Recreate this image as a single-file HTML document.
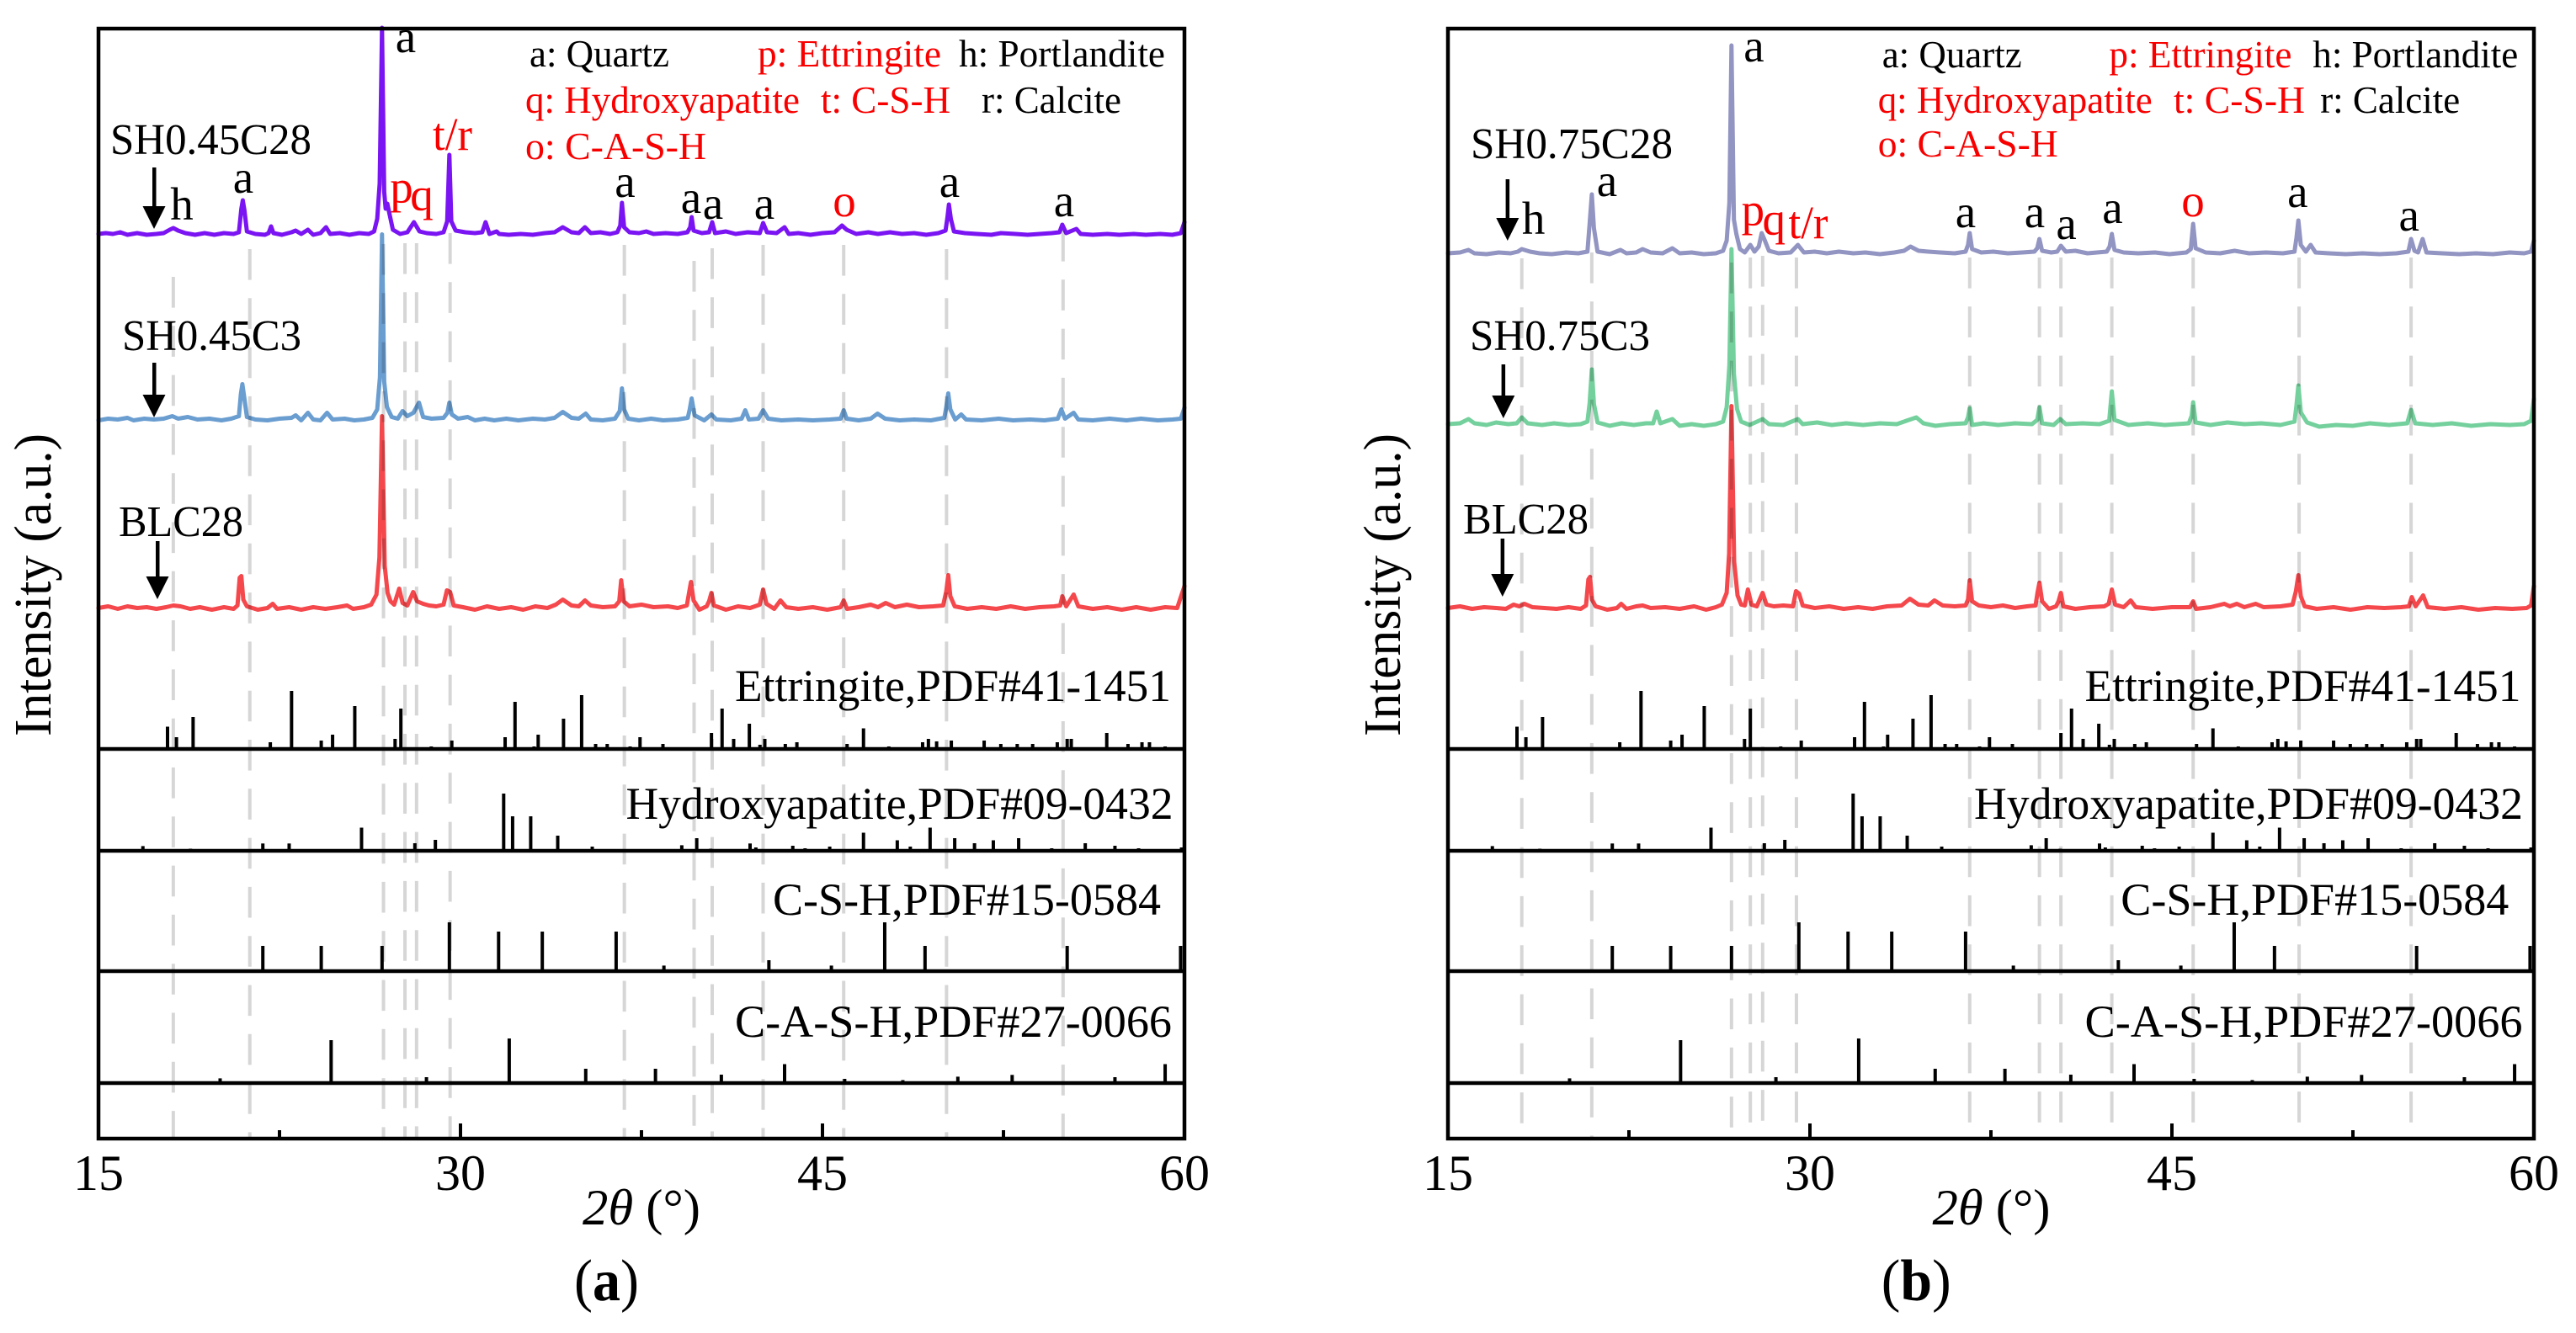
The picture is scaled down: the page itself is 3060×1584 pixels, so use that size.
<!DOCTYPE html>
<html lang="en">
<head>
<meta charset="utf-8">
<title>XRD patterns</title>
<style>
html,body{margin:0;padding:0;background:#fff;}
#fig{display:block;width:3060px;height:1584px;background:#fff;}
text{font-family:"Liberation Serif","Times New Roman",serif;fill:#000;}
.red{fill:#f80000;}
.lg{font-size:46px;}
.pk{font-size:55px;text-anchor:middle;}
.sm{font-size:52px;}
.pdf{font-size:54px;}
.tit{font-size:60px;}
.yt{font-size:62px;text-anchor:middle;}
.cap{font-size:70px;}
</style>
</head>
<body>
<svg id="fig" xmlns="http://www.w3.org/2000/svg" width="3060" height="1584" viewBox="0 0 3060 1584">
<g id="layer-grid"></g>
<g id="layer-series"></g>
<g id="layer-sticks"></g>
<g id="layer-frame"></g>
<g id="layer-ticks"></g>

<g>
<text class="yt" transform="translate(60,695) rotate(-90)" textLength="360" lengthAdjust="spacingAndGlyphs">Intensity (a.u.)</text>
<text class="tit" x="692" y="1455" textLength="140" lengthAdjust="spacingAndGlyphs"><tspan font-style="italic">2θ</tspan> (°)</text>
<text class="cap" x="682" y="1545" textLength="77" lengthAdjust="spacingAndGlyphs">(<tspan font-weight="bold">a</tspan>)</text>

<text class="lg" x="629" y="79" textLength="166" lengthAdjust="spacingAndGlyphs">a: Quartz</text>
<text class="lg red" x="900" y="79" textLength="218" lengthAdjust="spacingAndGlyphs">p: Ettringite</text>
<text class="lg" x="1139" y="79" textLength="245" lengthAdjust="spacingAndGlyphs">h: Portlandite</text>
<text class="lg red" x="624" y="134" textLength="326" lengthAdjust="spacingAndGlyphs">q: Hydroxyapatite</text>
<text class="lg red" x="975" y="134" textLength="154" lengthAdjust="spacingAndGlyphs">t: C-S-H</text>
<text class="lg" x="1166" y="134" textLength="166" lengthAdjust="spacingAndGlyphs">r: Calcite</text>
<text class="lg red" x="624" y="189" textLength="215" lengthAdjust="spacingAndGlyphs">o: C-A-S-H</text>

<text class="sm" x="131" y="183" textLength="239" lengthAdjust="spacingAndGlyphs">SH0.45C28</text>
<text class="sm" x="145" y="416" textLength="213" lengthAdjust="spacingAndGlyphs">SH0.45C3</text>
<text class="sm" x="141" y="637" textLength="148" lengthAdjust="spacingAndGlyphs">BLC28</text>

<g><rect x="181" y="199" width="4.5" height="50"/><polygon points="169.500,245 196.500,245 183,272"/></g>
<g><rect x="181" y="431" width="4.5" height="40"/><polygon points="169.500,469 196.500,469 183,496"/></g>
<g><rect x="185" y="643" width="4.5" height="45"/><polygon points="173.500,685 200.500,685 187,712"/></g>

<text class="pk" x="482" y="62">a</text>
<text class="pk" x="216" y="261">h</text>
<text class="pk" x="289" y="229">a</text>
<text class="pk red" x="477" y="241">p</text>
<text class="pk red" x="501" y="250">q</text>
<text class="pk red" x="537.500" y="178" textLength="47" lengthAdjust="spacingAndGlyphs">t/r</text>
<text class="pk" x="742.500" y="234">a</text>
<text class="pk" x="821" y="253">a</text>
<text class="pk" x="847" y="260">a</text>
<text class="pk" x="908" y="260">a</text>
<text class="pk red" x="1003" y="257">o</text>
<text class="pk" x="1128" y="234">a</text>
<text class="pk" x="1264" y="257">a</text>

<text class="pdf" x="873" y="833" textLength="518" lengthAdjust="spacingAndGlyphs">Ettringite,PDF#41-1451</text>
<text class="pdf" x="743.500" y="973" textLength="650" lengthAdjust="spacingAndGlyphs">Hydroxyapatite,PDF#09-0432</text>
<text class="pdf" x="918" y="1087" textLength="461" lengthAdjust="spacingAndGlyphs">C-S-H,PDF#15-0584</text>
<text class="pdf" x="873" y="1232" textLength="519" lengthAdjust="spacingAndGlyphs">C-A-S-H,PDF#27-0066</text>
</g>

<g>
<text class="yt" transform="translate(1663,695) rotate(-90)" textLength="360" lengthAdjust="spacingAndGlyphs">Intensity (a.u.)</text>
<text class="tit" x="2295.500" y="1455" textLength="140" lengthAdjust="spacingAndGlyphs"><tspan font-style="italic">2θ</tspan> (°)</text>
<text class="cap" x="2234.700" y="1545" textLength="83" lengthAdjust="spacingAndGlyphs">(<tspan font-weight="bold">b</tspan>)</text>

<text class="lg" x="2235.700" y="80" textLength="166" lengthAdjust="spacingAndGlyphs">a: Quartz</text>
<text class="lg red" x="2505.400" y="80" textLength="217" lengthAdjust="spacingAndGlyphs">p: Ettringite</text>
<text class="lg" x="2747.300" y="80" textLength="244" lengthAdjust="spacingAndGlyphs">h: Portlandite</text>
<text class="lg red" x="2230.700" y="134" textLength="326" lengthAdjust="spacingAndGlyphs">q: Hydroxyapatite</text>
<text class="lg red" x="2582" y="134" textLength="156" lengthAdjust="spacingAndGlyphs">t: C-S-H</text>
<text class="lg" x="2756.200" y="134" textLength="166" lengthAdjust="spacingAndGlyphs">r: Calcite</text>
<text class="lg red" x="2230.700" y="186" textLength="214" lengthAdjust="spacingAndGlyphs">o: C-A-S-H</text>

<text class="sm" x="1747" y="188" textLength="240" lengthAdjust="spacingAndGlyphs">SH0.75C28</text>
<text class="sm" x="1746" y="416" textLength="214" lengthAdjust="spacingAndGlyphs">SH0.75C3</text>
<text class="sm" x="1738" y="634" textLength="149" lengthAdjust="spacingAndGlyphs">BLC28</text>

<g><rect x="1788.600" y="213" width="4.5" height="50"/><polygon points="1777.300,259 1804.300,259 1790.800,286"/></g>
<g><rect x="1783.600" y="433" width="4.5" height="40"/><polygon points="1772.300,470 1799.300,470 1785.800,497"/></g>
<g><rect x="1782.600" y="640" width="4.5" height="45"/><polygon points="1771.300,682 1798.300,682 1784.800,709"/></g>

<text class="pk" x="2083.400" y="73">a</text>
<text class="pk" x="1909" y="233">a</text>
<text class="pk" x="1821.600" y="278">h</text>
<text class="pk red" x="2082.400" y="268">p</text>
<text class="pk red" x="2107.300" y="279">q</text>
<text class="pk red" x="2148" y="283" textLength="47" lengthAdjust="spacingAndGlyphs">t/r</text>
<text class="pk" x="2335" y="270">a</text>
<text class="pk" x="2417" y="270">a</text>
<text class="pk" x="2454.600" y="284">a</text>
<text class="pk" x="2509.400" y="265">a</text>
<text class="pk red" x="2605" y="257">o</text>
<text class="pk" x="2729.300" y="246">a</text>
<text class="pk" x="2861.700" y="274">a</text>

<text class="pdf" x="2476.500" y="833" textLength="518" lengthAdjust="spacingAndGlyphs">Ettringite,PDF#41-1451</text>
<text class="pdf" x="2345" y="973" textLength="652" lengthAdjust="spacingAndGlyphs">Hydroxyapatite,PDF#09-0432</text>
<text class="pdf" x="2519.300" y="1087" textLength="461" lengthAdjust="spacingAndGlyphs">C-S-H,PDF#15-0584</text>
<text class="pdf" x="2476.500" y="1232" textLength="520" lengthAdjust="spacingAndGlyphs">C-A-S-H,PDF#27-0066</text>
</g>
</svg>

<script>
/* ---------- data: [2theta, intensity] ---------- */
var sh045c28 = [[15,0],[15.3,1],[15.6,0],[15.9,2],[16.2,-1],[16.6,1],[17,-1],[17.4,0],[17.7,1],[17.95,5],[18.1,7],[18.3,4],[18.6,1],[19,-1],[19.4,1],[19.8,-1],[20.2,1],[20.6,0],[20.82,2],[20.92,30],[20.98,40],[21.05,28],[21.15,3],[21.5,0],[21.9,-1],[22.05,1],[22.15,9],[22.25,1],[22.6,-1],[23,2],[23.17,4],[23.4,0],[23.68,5],[23.9,-1],[24.2,1],[24.43,8],[24.6,0],[25,1],[25.4,-1],[25.8,1],[26.2,0],[26.42,3],[26.55,18],[26.65,60],[26.75,245],[26.84,50],[26.9,30],[26.97,36],[27.05,25],[27.2,5],[27.5,0],[27.8,2],[28.07,14],[28.3,3],[28.6,1],[29,0],[29.3,2],[29.45,15],[29.54,94],[29.62,15],[29.8,4],[30.2,2],[30.6,1],[30.9,2],[31.04,14],[31.2,0],[31.5,3],[31.6,0],[32,-1],[32.5,0],[33,-1],[33.5,1],[33.9,2],[34.24,8],[34.6,2],[34.9,1],[35.16,8],[35.4,1],[35.8,2],[36.2,0],[36.5,2],[36.62,10],[36.69,37],[36.78,8],[37,2],[37.4,1],[37.7,3],[38,0],[38.5,1],[39,0],[39.4,2],[39.52,8],[39.58,20],[39.66,4],[40,1],[40.3,2],[40.43,14],[40.55,1],[41,3],[41.4,0],[41.9,2],[42.4,1],[42.54,13],[42.7,2],[43.1,1],[43.43,8],[43.6,0],[44,1],[44.5,-1],[45,1],[45.5,2],[45.81,10],[46,5],[46.4,0],[46.9,2],[47.3,0],[47.8,2],[48.3,0],[48.8,1],[49.3,-1],[49.8,1],[50.1,4],[50.18,20],[50.24,35],[50.32,18],[50.45,3],[50.9,1],[51.4,0],[52,-1],[52.4,1],[53,0],[53.5,-1],[54,0],[54.5,1],[54.82,2],[54.94,11],[55.1,1],[55.52,6],[55.7,0],[56.2,-1],[56.8,0],[57.3,-1],[57.9,0],[58.4,-1],[59,0],[59.5,-1],[59.85,1],[60,14]];
var sh045c3 = [[15,-1],[15.4,1],[15.8,0],[16.2,2],[16.45,-1],[16.9,1],[17.3,0],[17.7,1],[18.06,4],[18.3,1],[18.7,3],[19.1,0],[19.6,1],[20.1,-1],[20.5,1],[20.82,4],[20.9,30],[20.96,42],[21.03,28],[21.15,3],[21.5,0],[22,-1],[22.5,1],[23,2],[23.17,5],[23.4,-1],[23.68,8],[23.9,0],[24.2,-1],[24.47,8],[24.7,0],[25.2,1],[25.6,-1],[26,0],[26.35,2],[26.55,12],[26.66,50],[26.75,220],[26.84,45],[26.95,15],[27.15,3],[27.4,1],[27.6,10],[27.8,4],[28.05,8],[28.28,20],[28.45,3],[28.8,1],[29.3,2],[29.46,8],[29.54,20],[29.64,6],[29.9,1],[30.3,3],[30.6,-1],[31,1],[31.4,-1],[31.9,1],[32.4,-1],[33,1],[33.5,0],[33.9,2],[34.24,9],[34.6,2],[34.9,1],[35.19,7],[35.4,0],[35.9,-1],[36.4,1],[36.6,10],[36.69,37],[36.78,12],[36.95,1],[37.4,-1],[37.9,1],[38.4,-1],[39,0],[39.42,2],[39.5,12],[39.58,25],[39.7,5],[40.1,-1],[40.4,6],[40.6,0],[41.2,-1],[41.65,1],[41.8,11],[41.95,0],[42.35,1],[42.54,11],[42.75,1],[43.3,-1],[44,0],[44.6,-1],[45.3,0],[45.75,1],[45.88,11],[46,1],[46.5,-1],[47,1],[47.28,7],[47.6,1],[48.2,-1],[48.8,0],[49.5,-1],[50.05,2],[50.13,15],[50.21,31],[50.3,12],[50.5,0],[50.75,6],[50.95,0],[51.6,-1],[52.3,1],[52.9,-1],[53.6,0],[54.2,-1],[54.75,1],[54.9,12],[55.05,1],[55.41,8],[55.6,0],[56.2,-1],[56.9,1],[57.6,-1],[58.2,1],[58.9,-1],[59.5,0],[59.85,1],[60,14]];
var blc28a = [[15,0],[15.4,2],[15.8,-1],[16.2,2],[16.6,0],[17,1],[17.4,-1],[17.8,1],[18.1,3],[18.4,2],[18.8,-1],[19.2,1],[19.7,-2],[20.2,1],[20.6,-1],[20.76,3],[20.85,36],[20.92,38],[21,10],[21.15,2],[21.6,-2],[22,0],[22.22,5],[22.4,-1],[22.9,1],[23.4,-2],[23.9,1],[24.4,-1],[24.9,1],[25.3,3],[25.55,-1],[26,1],[26.3,4],[26.52,16],[26.64,60],[26.75,228],[26.86,50],[26.98,18],[27.1,8],[27.25,4],[27.46,23],[27.6,6],[27.8,3],[28.04,19],[28.2,8],[28.45,5],[28.7,3],[29,2],[29.3,4],[29.44,21],[29.57,19],[29.72,3],[30.1,1],[30.6,-2],[31.1,2],[31.6,-1],[32.1,1],[32.6,-2],[33.1,2],[33.6,0],[33.95,4],[34.24,10],[34.6,3],[34.9,2],[35.16,9],[35.4,3],[35.9,1],[36.4,2],[36.58,8],[36.66,33],[36.76,8],[37,2],[37.5,4],[38,1],[38.6,2],[39,0],[39.38,3],[39.47,18],[39.55,31],[39.66,9],[39.9,-2],[40.2,2],[40.3,8],[40.4,18],[40.5,3],[41,-2],[41.5,2],[42,0],[42.4,4],[42.54,22],[42.68,5],[43,-1],[43.26,9],[43.5,1],[44,-1],[44.6,1],[45.2,-2],[45.75,1],[45.88,9],[46.02,-1],[46.5,1],[47,4],[47.3,1],[47.62,6],[48,1],[48.5,4],[49,1],[49.6,2],[50,3],[50.13,20],[50.21,39],[50.3,14],[50.48,2],[51,-1],[51.6,1],[52.2,-1],[52.8,2],[53.4,-1],[54,1],[54.6,2],[54.85,3],[54.94,14],[55.1,2],[55.41,16],[55.6,2],[56.2,-1],[56.8,1],[57.4,-2],[58,1],[58.6,-2],[59.2,1],[59.7,0],[60,26]];
var sh075c28 = [[15,0],[15.5,1],[15.85,4],[16.1,0],[16.6,-1],[17.1,1],[17.6,0],[17.9,2],[18.06,5],[18.4,2],[18.8,0],[19.3,-1],[19.9,1],[20.4,0],[20.78,2],[20.87,35],[20.96,70],[21.05,30],[21.2,2],[21.7,-1],[22.15,4],[22.4,0],[22.8,1],[23.07,5],[23.4,1],[23.9,0],[24.3,6],[24.6,0],[25.1,1],[25.6,-1],[26.1,0],[26.4,3],[26.55,15],[26.66,60],[26.75,247],[26.85,40],[26.95,23],[27.1,5],[27.3,1],[27.53,10],[27.7,2],[27.88,8],[28,24],[28.12,16],[28.3,3],[28.7,0],[29.2,1],[29.5,10],[29.75,1],[30.2,2],[30.7,0],[31.2,2],[31.8,0],[32.3,1],[32.9,-1],[33.5,1],[33.9,3],[34.17,8],[34.5,3],[34.9,2],[35.4,1],[36,0],[36.45,2],[36.55,10],[36.62,24],[36.72,5],[37.1,1],[37.6,2],[38.2,0],[38.8,1],[39.3,2],[39.42,6],[39.51,17],[39.62,3],[40,1],[40.25,2],[40.4,9],[40.6,2],[41,3],[41.5,0],[42.3,2],[42.42,8],[42.51,23],[42.62,4],[43,1],[43.6,0],[44.3,1],[44.9,-1],[45.6,1],[45.78,5],[45.88,35],[45.98,6],[46.4,1],[47,0],[47.6,3],[48.2,0],[48.9,1],[49.6,0],[50.08,2],[50.16,18],[50.24,39],[50.34,10],[50.55,2],[50.75,10],[50.95,1],[51.5,0],[52.2,-1],[52.9,0],[53.6,-1],[54.3,0],[54.8,2],[54.91,17],[55.05,3],[55.2,1],[55.39,17],[55.55,1],[56.2,0],[56.9,-1],[57.6,0],[58.3,-1],[59,1],[59.6,0],[59.88,2],[60,15]];
var sh075c3 = [[15,0],[15.5,1],[15.85,6],[16.1,1],[16.6,-1],[17,2],[17.5,0],[17.85,1],[18.06,8],[18.3,1],[18.9,-1],[19.4,1],[20,-1],[20.5,0],[20.78,3],[20.87,25],[20.96,65],[21.05,24],[21.2,2],[21.7,-2],[22.2,1],[22.7,-1],[23.2,1],[23.5,1],[23.65,15],[23.8,1],[24.3,6],[24.6,-2],[25.1,0],[25.6,-2],[26.1,0],[26.4,3],[26.55,20],[26.66,70],[26.75,208],[26.85,60],[26.98,18],[27.15,3],[27.5,-1],[28.04,6],[28.3,0],[28.9,-1],[29.5,6],[29.7,0],[30.3,2],[30.9,-1],[31.5,1],[32.2,-1],[32.9,1],[33.6,0],[34.1,5],[34.41,8],[34.7,1],[35.2,-2],[35.8,0],[36.45,1],[36.55,8],[36.62,19],[36.72,-1],[37.2,1],[37.8,-1],[38.5,1],[39.2,0],[39.42,5],[39.51,20],[39.62,1],[40.1,-1],[40.37,6],[40.6,0],[41.3,1],[42,0],[42.4,4],[42.51,39],[42.62,5],[43.2,-1],[44,1],[44.7,-1],[45.7,1],[45.82,10],[45.88,26],[45.98,2],[46.6,-1],[47.3,2],[48,0],[48.7,1],[49.5,-1],[50.08,3],[50.16,22],[50.24,46],[50.34,14],[50.6,2],[51.1,-3],[51.8,-1],[52.5,-2],[53.2,1],[54,-1],[54.75,1],[54.91,17],[55.08,1],[55.8,-1],[56.6,1],[57.4,-2],[58.2,0],[59,-1],[59.6,0],[59.88,4],[60,30]];
var blc28b = [[15,0],[15.5,2],[16,-1],[16.5,1],[17,0],[17.4,-1],[17.72,4],[17.95,2],[18.17,5],[18.5,1],[19,0],[19.5,-1],[20,1],[20.5,-1],[20.72,3],[20.82,34],[20.89,37],[20.97,10],[21.12,2],[21.6,-2],[22,0],[22.18,5],[22.4,-1],[22.8,2],[23.07,3],[23.4,0],[24,1],[24.6,-1],[25.2,2],[25.7,-2],[26.1,1],[26.35,4],[26.55,18],[26.65,65],[26.75,240],[26.86,55],[27,15],[27.15,4],[27.3,3],[27.43,22],[27.58,4],[27.8,2],[28.04,18],[28.2,4],[28.5,2],[28.9,3],[29.3,2],[29.42,20],[29.55,17],[29.7,3],[30.2,0],[30.8,2],[31.4,-1],[32,1],[32.6,-1],[33.2,2],[33.8,3],[34.14,11],[34.5,4],[34.9,3],[35.16,9],[35.5,3],[36,2],[36.45,3],[36.55,10],[36.62,33],[36.72,8],[37,3],[37.5,1],[38,3],[38.5,0],[39,2],[39.35,3],[39.43,18],[39.51,30],[39.62,8],[39.9,-1],[40.2,2],[40.3,8],[40.4,18],[40.5,2],[41,-1],[41.6,1],[42.2,2],[42.38,5],[42.51,22],[42.65,4],[43,1],[43.29,9],[43.5,1],[44.2,-1],[45,1],[45.75,1],[45.88,8],[46,-1],[46.6,1],[47.17,5],[47.4,2],[47.69,5],[48,1],[48.47,5],[48.8,1],[49.5,2],[50,4],[50.14,20],[50.24,39],[50.34,14],[50.5,2],[51,-1],[51.7,1],[52.4,-2],[53.1,1],[53.8,0],[54.5,1],[54.82,2],[54.94,13],[55.1,2],[55.41,15],[55.6,1],[56.3,-1],[57,1],[57.7,-2],[58.4,0],[59.1,-1],[59.7,0],[59.88,3],[60,26]];

/* reference card peaks: 2theta and relative height */
var ettringiteT = [17.86,18.23,18.92,22.12,23.0,24.23,24.7,25.62,27.29,27.53,28.79,29.64,31.85,32.26,33.05,33.22,34.27,35.02,35.6,36.08,37.03,37.44,38.39,40.4,40.84,41.32,41.97,42.41,42.61,43.46,43.94,46.02,46.7,47.75,48.71,49.15,49.39,49.73,50.34,51.7,52.39,53.07,53.71,54.73,55.14,55.31,56.78,57.66,58.24,58.55,59.2];
var ettringiteI = [26.5,14,38,8,69,10,17,51,12,48,3,10,14,56,3,17,36,64,6,6,3,14,6,19,48,12,30,5,12,6,8,6,24.5,3,2,8,12,9,10,10,6,6,6,8,12,12,19,6,8,8,3];
var hydroxyT = [16.84,18.81,21.81,22.9,25.42,25.9,28.11,28.96,31.79,32.16,32.91,34.03,35.46,39.17,39.79,40.37,42.0,42.24,43.77,44.28,45.3,46.7,48.1,48.64,49.46,50.48,51.3,52.08,53.13,54.5,55.89,57.12,58.1,59.88];
var hydroxyI = [5.6,2.5,8.7,8.7,1.5,27.5,9,13,68,41,41,18,5,6.6,15,2.5,8.7,4,6,3,5,21.5,12.5,5,27.5,15,9,12.5,15,3,9,6,3,4];
var cshT = [21.81,24.23,26.75,29.54,31.58,33.39,36.45,38.43,42.78,45.37,47.58,49.25,55.14,59.84];
var cshI = [30,30,30,58,47,47,47,6.6,13,6.6,58,30,30,30];
var cashT = [20.04,24.64,28.59,32.02,35.19,38.08,40.81,43.43,45.92,48.33,50.61,52.86,57.12,59.2];
var cashI = [5.6,51,7,53,17,17,10,22.5,5,3.5,7.6,9.7,7,22.5];

/* axis ticks and guide line positions */
var majorTicks = [15,30,45,60];
var minorTicks = [22.5,37.5,52.5];
var tickLabels = ["15","30","45","60"];
var guidesA = [18.1,21.27,26.81,27.7,28.18,29.57,36.79,39.68,40.43,42.54,45.88,50.14,54.97];
var guidesB = [18.06,20.96,26.75,27.53,28.04,29.44,36.62,39.51,40.4,42.51,45.88,50.27,54.91];

/* ---------- layout ---------- */
var NS = 'http://www.w3.org/2000/svg';
var frameTop = 34, frameBottom = 1353;
var dividers = [890, 1011, 1154, 1287];
var panels = [
  {left:117, right:1407, guides:guidesA, guideStart:[329,296,290,289,289,277,291,310,295,291,291,296,274],
   curves:[{d:sh045c28,b:278,c:'#7a14f2',n:'curve-sh045c28'},{d:sh045c3,b:498.5,c:'#6a9dd0',n:'curve-sh045c3'},{d:blc28a,b:722.5,c:'#f4484c',n:'curve-blc28-a'}]},
  {left:1720, right:3010, guides:guidesB, guideStart:[307,300,312,306,304,306,306,306,306,306,306,306,306],
   curves:[{d:sh075c28,b:301,c:'#9294c2',n:'curve-sh075c28'},{d:sh075c3,b:504,c:'#74d09c',n:'curve-sh075c3'},{d:blc28b,b:722.5,c:'#f4484c',n:'curve-blc28-b'}]}
];
var sticks = [
  {t:ettringiteT,i:ettringiteI,b:dividers[0],n:'stick-ettringite'},
  {t:hydroxyT,i:hydroxyI,b:dividers[1],n:'stick-hydroxyapatite'},
  {t:cshT,i:cshI,b:dividers[2],n:'stick-csh'},
  {t:cashT,i:cashI,b:dividers[3],n:'stick-cash'}
];
var scaleY = 1;

function xAxis(p){return function(t){return p.left+(t-15)*(p.right-p.left)/45;};}
function yAxis(base){return function(v){return base-v*scaleY;};}
function line(parent,x1,y1,x2,y2,color,w){
  var el=document.createElementNS(NS,'line');
  el.setAttribute('x1',x1);el.setAttribute('y1',y1);el.setAttribute('x2',x2);el.setAttribute('y2',y2);
  el.setAttribute('stroke',color);el.setAttribute('stroke-width',w);
  parent.appendChild(el);
  return el;
}

var gridLayer=document.getElementById('layer-grid');
var seriesLayer=document.getElementById('layer-series');
var stickLayer=document.getElementById('layer-sticks');
var frameLayer=document.getElementById('layer-frame');
var tickLayer=document.getElementById('layer-ticks');

panels.forEach(function(p){
  var x=xAxis(p);

  p.guides.forEach(function(t,k){
    var g=line(gridLayer,x(t),p.guideStart[k],x(t),frameBottom,'#d6d6d6',4);
    g.setAttribute('stroke-dasharray','36.6 21.7');
    
    
  });

  p.curves.forEach(function(c){
    var y=yAxis(c.b);
    var pl=document.createElementNS(NS,'polyline');
    pl.setAttribute('points',c.d.map(function(q){return x(q[0]).toFixed(1)+','+y(q[1]).toFixed(1);}).join(' '));
    pl.setAttribute('fill','none');
    pl.setAttribute('stroke',c.c);
    pl.setAttribute('stroke-width','5');
    pl.setAttribute('stroke-linejoin','round');
    pl.setAttribute('stroke-linecap','round');
    pl.style.mixBlendMode='multiply';
    
    
    seriesLayer.appendChild(pl);
  });

  sticks.forEach(function(s){
    var y=yAxis(s.b);
    s.t.forEach(function(t,k){
      var st=line(stickLayer,x(t),y(s.i[k]),x(t),s.b,'#000',4);
      
      
    });
  });

  var box=document.createElementNS(NS,'rect');
  box.setAttribute('x',p.left);
  box.setAttribute('y',frameTop);
  box.setAttribute('width',p.right-p.left);
  box.setAttribute('height',frameBottom-frameTop);
  box.setAttribute('fill','none');
  box.setAttribute('stroke','#000');
  box.setAttribute('stroke-width','4.5');
  
  
  frameLayer.appendChild(box);

  dividers.forEach(function(d){
    var dv=line(frameLayer,p.left,d,p.right,d,'#000',4.5);
    
    
  });

  majorTicks.forEach(function(t,k){
    var tk=line(tickLayer,x(t),frameBottom-18,x(t),frameBottom,'#000',4);
    
    
    var lb=document.createElementNS(NS,'text');
    lb.setAttribute('x',x(t));
    lb.setAttribute('y',1414);
    lb.setAttribute('text-anchor','middle');
    lb.setAttribute('font-size','60');
    lb.textContent=tickLabels[k];
    
    
    tickLayer.appendChild(lb);
  });
  minorTicks.forEach(function(t){
    var mt=line(tickLayer,x(t),frameBottom-10,x(t),frameBottom,'#000',4);
    
    
  });
});
</script>
</body>
</html>
